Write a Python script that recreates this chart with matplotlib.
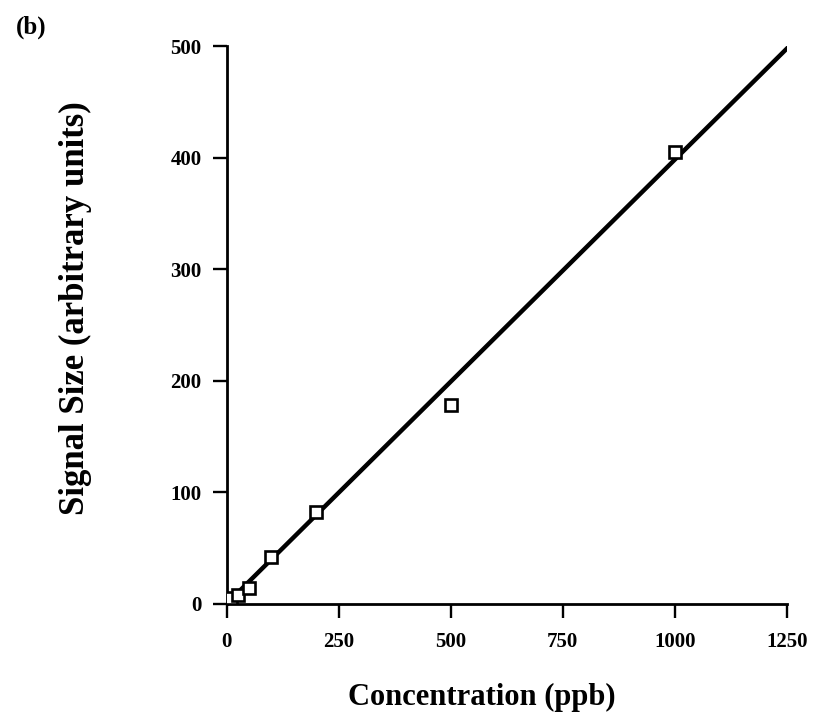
import matplotlib
matplotlib.use("Agg")
import matplotlib.pyplot as plt

# measured points (ppb, signal)
conc = [0, 5, 10, 25, 50, 100, 200, 500, 1000]
signal = [1, 3, 5, 8, 14, 42, 82, 178, 405]

# straight-line fit drawn through the data
fit_x = [0, 1250]
fit_y = [0, 498]

xticks = [0, 250, 500, 750, 1000, 1250]
yticks = [0, 100, 200, 300, 400, 500]

plt.rcParams['font.family'] = ['Liberation Serif', 'DejaVu Serif']

fig = plt.figure(figsize=(8.18, 7.12), dpi=100)
ax = fig.add_axes([0.277, 0.152, 0.685, 0.783])

ax.plot(fit_x, fit_y, color='black', lw=3.2, zorder=2)
ax.plot(conc, signal, linestyle='none', marker='s', markersize=8.5,
        markerfacecolor='white', markeredgecolor='black', markeredgewidth=1.9, zorder=3)

ax.set_xlim(0, 1250)
ax.set_ylim(0, 500)
ax.set_xticks(xticks)
ax.set_yticks(yticks)
ax.tick_params(direction='out', length=10, width=1.7, labelsize=15)
ax.tick_params(axis='x', pad=10)
ax.tick_params(axis='y', pad=8)
for lab in ax.get_xticklabels() + ax.get_yticklabels():
    lab.set_fontweight('bold')

for s in ['top', 'right']:
    ax.spines[s].set_visible(False)
for s in ['left', 'bottom']:
    ax.spines[s].set_linewidth(2.0)

ax.set_xlabel('Concentration (ppb)', fontsize=22, fontweight='bold')
ax.xaxis.set_label_coords(0.455, -0.142)
ax.set_ylabel('Signal Size (arbitrary units)', fontsize=25, fontweight='bold')
ax.yaxis.set_label_coords(-0.24, 0.53)

fig.text(0.02, 0.961, '(b)', fontsize=18, fontweight='bold', va='center')

fig.savefig('out.png', dpi=100)
